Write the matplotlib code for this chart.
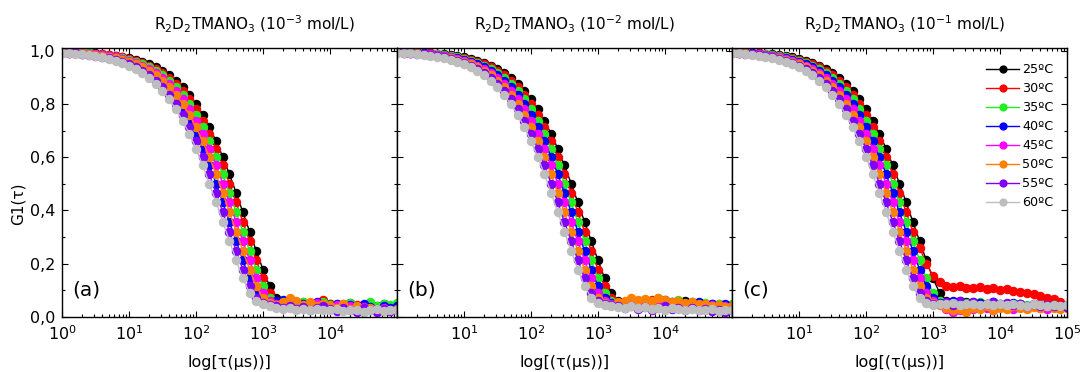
import numpy as np
import matplotlib
matplotlib.use("Agg")
import matplotlib.pyplot as plt
from matplotlib.ticker import FuncFormatter, MultipleLocator, LogLocator, NullFormatter

# ---------------- data ----------------
TAU = [1, 1.26, 1.58, 2.0, 2.51, 3.16, 3.98, 5.01, 6.31, 7.94,
       10, 12.6, 15.8, 20.0, 25.1, 31.6, 39.8, 50.1, 63.1, 79.4,
       100, 126, 158, 200, 251, 316, 398, 501, 631, 794,
       1000, 1259, 1585, 1995, 2512, 3162, 3981, 5012, 6310, 7943,
       10000, 12589, 15849, 19953, 25119, 31623, 39811, 50119, 63096, 79433, 100000]

LABELS = ["25ºC", "30ºC", "35ºC", "40ºC", "45ºC", "50ºC", "55ºC", "60ºC"]
COLORS = ["#000000", "#FF0000", "#22EE22", "#0000FF", "#FF00FF", "#FF8000", "#7F00FF", "#BEBEBE"]
TITLES = ["R$_2$D$_2$TMANO$_3$ (10$^{-3}$ mol/L)",
          "R$_2$D$_2$TMANO$_3$ (10$^{-2}$ mol/L)",
          "R$_2$D$_2$TMANO$_3$ (10$^{-1}$ mol/L)"]
XLABELS = ["log[τ(μs))]", "log[(τ(μs))]", "log[(τ(μs))]"]
PANEL_TAGS = ["(a)", "(b)", "(c)"]

# panel (a) 1e-3 mol/L
a25 = [.996,.996,.995,.993,.992,.990,.988,.985,.981,.977,.972,.966,.958,.949,.937,.923,.907,.886,.862,.833,.799,.760,.713,.660,.601,.536,.466,.393,.321,.248,.178,.115,.072,.052,.045,
       .05,.046,.052,.044,.058,.048,.04,.046,.052,.038,.044,.036,.042,.048,.034,.04]
a30 = [.996,.995,.994,.993,.991,.989,.986,.983,.979,.975,.969,.962,.954,.943,.931,.915,.897,.875,.848,.817,.780,.737,.688,.632,.569,.501,.430,.357,.285,.213,.145,.090,.060,.047,
       .06,.052,.058,.046,.05,.062,.048,.044,.05,.04,.046,.038,.042,.036,.044,.032,.048]
a35 = [.996,.995,.993,.992,.990,.988,.985,.981,.977,.972,.966,.958,.949,.937,.923,.907,.886,.862,.833,.799,.760,.713,.660,.601,.536,.466,.393,.321,.248,.178,.115,.072,.052,.045,
       .05,.046,.055,.04,.052,.058,.044,.05,.042,.054,.038,.046,.055,.04,.05,.045,.052]
a40 = [.994,.993,.991,.989,.986,.983,.979,.975,.969,.962,.954,.943,.931,.915,.897,.875,.848,.817,.780,.737,.688,.632,.569,.501,.430,.357,.285,.213,.145,.090,.060,.047,
       .06,.065,.055,.045,.05,.04,.055,.045,.038,.05,.04,.045,.035,.048,.038,.03,.042,.035,.04]
a45 = [.995,.994,.993,.991,.989,.986,.983,.979,.975,.969,.962,.954,.943,.931,.915,.897,.875,.848,.817,.780,.737,.688,.632,.569,.501,.430,.357,.285,.213,.145,.090,.060,.047,
       .045,.04,.05,.036,.045,.052,.04,.034,.045,.03,.04,.028,.036,.03,.025,.035,.022,.03]
a50 = [.995,.993,.992,.990,.988,.985,.981,.977,.972,.966,.958,.949,.937,.923,.907,.886,.862,.833,.799,.760,.713,.660,.601,.536,.466,.393,.321,.248,.178,.115,.072,.052,.045,
       .055,.07,.06,.045,.058,.04,.05,.042,.035,.048,.03,.04,.025,.035,.02,.03,.025,.03]
a55 = [.993,.992,.990,.988,.985,.981,.977,.972,.966,.958,.949,.937,.923,.907,.886,.862,.833,.799,.760,.713,.660,.601,.536,.466,.393,.321,.248,.178,.115,.072,.052,.045,
       .04,.035,.04,.03,.038,.025,.035,.04,.03,.022,.035,.028,.02,.032,.025,.018,.03,.022,.028]
a60 = [.993,.991,.989,.986,.983,.979,.975,.969,.962,.954,.943,.931,.915,.897,.875,.848,.817,.780,.737,.688,.632,.569,.501,.430,.357,.285,.213,.145,.090,.060,.047,
       .04,.035,.03,.032,.028,.03,.025,.03,.028,.025,.03,.022,.028,.025,.02,.025,.03,.022,.025,.028]

# panel (b) 1e-2 mol/L
b25 = [.996,.996,.995,.994,.993,.991,.989,.986,.983,.979,.975,.969,.962,.954,.943,.931,.915,.897,.875,.848,.817,.780,.737,.688,.632,.569,.501,.430,.357,.285,.213,.145,.090,.060,.047,
       .05,.055,.06,.052,.058,.065,.055,.05,.06,.048,.052,.045,.05,.04,.045,.038]
b30 = [.996,.996,.995,.993,.992,.990,.988,.985,.981,.977,.972,.966,.958,.949,.937,.923,.907,.886,.862,.833,.799,.760,.713,.660,.601,.536,.466,.393,.321,.248,.178,.115,.072,.052,.045,
       .052,.058,.05,.062,.055,.06,.052,.058,.05,.055,.045,.05,.042,.048,.04,.045]
b35 = [.996,.995,.994,.993,.991,.989,.986,.983,.979,.975,.969,.962,.954,.943,.931,.915,.897,.875,.848,.817,.780,.737,.688,.632,.569,.501,.430,.357,.285,.213,.145,.090,.060,.047,
       .055,.05,.06,.065,.055,.07,.06,.055,.062,.05,.055,.048,.052,.045,.05,.042,.048]
b40 = [.996,.995,.993,.992,.990,.988,.985,.981,.977,.972,.966,.958,.949,.937,.923,.907,.886,.862,.833,.799,.760,.713,.660,.601,.536,.466,.393,.321,.248,.178,.115,.072,.052,.045,
       .05,.055,.06,.052,.058,.062,.055,.05,.058,.052,.048,.055,.045,.05,.042,.048,.04]
b45 = [.995,.994,.993,.991,.989,.986,.983,.979,.975,.969,.962,.954,.943,.931,.915,.897,.875,.848,.817,.780,.737,.688,.632,.569,.501,.430,.357,.285,.213,.145,.090,.060,.047,
       .05,.045,.055,.06,.05,.058,.052,.045,.055,.048,.04,.05,.042,.038,.045,.035,.04,.032]
b50 = [.995,.993,.992,.990,.988,.985,.981,.977,.972,.966,.958,.949,.937,.923,.907,.886,.862,.833,.799,.760,.713,.660,.601,.536,.466,.393,.321,.248,.178,.115,.072,.052,.045,
       .055,.06,.07,.062,.068,.06,.072,.065,.058,.06,.052,.055,.048,.05,.042,.045,.038,.04]
b55 = [.994,.993,.991,.989,.986,.983,.979,.975,.969,.962,.954,.943,.931,.915,.897,.875,.848,.817,.780,.737,.688,.632,.569,.501,.430,.357,.285,.213,.145,.090,.060,.047,
       .045,.04,.035,.042,.03,.038,.025,.035,.04,.03,.035,.028,.032,.025,.03,.022,.028,.02,.025]
b60 = [.993,.992,.990,.988,.985,.981,.977,.972,.966,.958,.949,.937,.923,.907,.886,.862,.833,.799,.760,.713,.660,.601,.536,.466,.393,.321,.248,.178,.115,.072,.052,.045,
       .042,.038,.035,.04,.032,.036,.03,.034,.028,.032,.03,.026,.03,.028,.025,.03,.024,.028,.025]

# panel (c) 1e-1 mol/L
c25 = [.996,.995,.994,.993,.991,.989,.986,.983,.979,.975,.969,.962,.954,.943,.931,.915,.897,.875,.848,.817,.780,.737,.688,.632,.569,.501,.430,.357,.285,.213,.145,.090,.060,.047,
       .06,.055,.05,.052,.048,.055,.05,.045,.05,.048,.042,.046,.04,.044,.038,.042,.04]
c30 = [.996,.995,.993,.992,.990,.988,.985,.981,.977,.972,.966,.958,.949,.937,.923,.907,.886,.862,.833,.799,.760,.713,.660,.601,.536,.466,.393,.321,
       .26,.20,.155,.13,.118,.112,.115,.11,.108,.112,.105,.11,.102,.105,.098,.095,.09,.085,.08,.072,.066,.055,.045]
c35 = [.995,.994,.993,.991,.989,.986,.983,.979,.975,.969,.962,.954,.943,.931,.915,.897,.875,.848,.817,.780,.737,.688,.632,.569,.501,.430,.357,.285,.213,.145,.090,.060,.047,
       .05,.045,.052,.048,.055,.045,.05,.04,.048,.042,.05,.045,.04,.046,.038,.044,.04,.042]
c40 = [.995,.993,.992,.990,.988,.985,.981,.977,.972,.966,.958,.949,.937,.923,.907,.886,.862,.833,.799,.760,.713,.660,.601,.536,.466,.393,.321,.248,.178,.115,.072,.052,.045,
       .06,.055,.05,.058,.052,.048,.055,.05,.045,.052,.048,.042,.05,.045,.04,.046,.04,.044]
c45 = [.994,.993,.991,.989,.986,.983,.979,.975,.969,.962,.954,.943,.931,.915,.897,.875,.848,.817,.780,.737,.688,.632,.569,.501,.430,.357,.285,.213,.145,.090,.060,.047,
       .03,.02,.025,.035,.03,.04,.035,.028,.04,.035,.03,.038,.032,.04,.035,.03,.038,.032,.036]
c50 = [.993,.992,.990,.988,.985,.981,.977,.972,.966,.958,.949,.937,.923,.907,.886,.862,.833,.799,.760,.713,.660,.601,.536,.466,.393,.321,.248,.178,.115,.072,.052,.045,
       .035,.025,.03,.02,.035,.03,.04,.025,.035,.03,.04,.035,.03,.038,.032,.04,.035,.03,.035]
c55 = [.993,.991,.989,.986,.983,.979,.975,.969,.962,.954,.943,.931,.915,.897,.875,.848,.817,.780,.737,.688,.632,.569,.501,.430,.357,.285,.213,.145,.090,.060,.047,
       .05,.055,.045,.06,.05,.055,.045,.05,.058,.048,.052,.045,.05,.042,.048,.04,.045,.04,.042,.038]
c60 = [.992,.990,.988,.985,.981,.977,.972,.966,.958,.949,.937,.923,.907,.886,.862,.833,.799,.760,.713,.660,.601,.536,.466,.393,.321,.248,.178,.115,.072,.052,.045,
       .05,.048,.052,.045,.05,.048,.045,.05,.046,.048,.044,.05,.045,.042,.048,.044,.04,.045,.042,.044]

PANELS = [[a25, a30, a35, a40, a45, a50, a55, a60],
          [b25, b30, b35, b40, b45, b50, b55, b60],
          [c25, c30, c35, c40, c45, c50, c55, c60]]

# ---------------- style ----------------
plt.rcParams["font.family"] = ["DejaVu Sans"]
plt.rcParams["mathtext.fontset"] = "dejavusans"

W, H = 1082, 372
fig = plt.figure(figsize=(W / 100, H / 100), dpi=100)

ax_left = [62, 397, 732]
ax_w = 335
ax_top, ax_bot = 48, 317
title_cx = [254, 574, 904]
shown_x = [{0, 1, 2, 3, 4}, {1, 2, 3, 4}, {1, 2, 3, 4, 5}]

def yfmt(v, p):
    return ("%.1f" % v).replace(".", ",")

for k in range(3):
    ax = fig.add_axes([ax_left[k] / W, 1 - ax_bot / H, ax_w / W, (ax_bot - ax_top) / H])
    for vals, col, lab in zip(PANELS[k], COLORS, LABELS):
        ax.plot(TAU, vals, "-o", color=col, mfc=col, mec=col, ms=5.8, lw=1.0, label=lab)
    ax.set_xscale("log")
    ax.set_xlim(1, 1e5)
    ax.set_ylim(0, 1.01)
    ax.xaxis.set_major_locator(LogLocator(base=10, numticks=10))
    ax.xaxis.set_minor_locator(LogLocator(base=10, subs=range(2, 10), numticks=20))
    ax.xaxis.set_minor_formatter(NullFormatter())
    sx = shown_x[k]
    ax.xaxis.set_major_formatter(FuncFormatter(
        lambda v, p, sx=sx: ("$10^{%d}$" % int(round(np.log10(v)))) if int(round(np.log10(v))) in sx else ""))
    ax.yaxis.set_major_locator(MultipleLocator(0.2))
    ax.yaxis.set_minor_locator(MultipleLocator(0.1))
    if k == 0:
        ax.yaxis.set_major_formatter(FuncFormatter(yfmt))
    else:
        ax.yaxis.set_major_formatter(FuncFormatter(lambda v, p: ""))
    ax.tick_params(which="both", direction="in", top=True, right=True, labelsize=11.5, width=0.8)
    ax.tick_params(axis="x", which="major", pad=5)
    ax.tick_params(axis="y", which="major", pad=5)
    ax.tick_params(which="major", length=4)
    ax.tick_params(which="minor", length=2.5)
    for s in ax.spines.values():
        s.set_linewidth(1.0)
    ax.set_xlabel(XLABELS[k], fontsize=11.5, labelpad=9)
    ax.text(0.03, 0.10, PANEL_TAGS[k], transform=ax.transAxes, fontsize=14.5, va="center", ha="left")
    fig.text(title_cx[k] / W, 1 - 24 / H, TITLES[k], fontsize=11, ha="center", va="center")
    if k == 2:
        ax.legend(loc="upper right", bbox_to_anchor=(0.99, 0.982), frameon=False, fontsize=9.2,
                  handlelength=2.6, handletextpad=0.2, labelspacing=0.47, borderaxespad=0.5,
                  borderpad=0.3, markerscale=0.85)

fig.text(18 / W, 1 - 204 / H, "G1(τ)", rotation=90, fontsize=11, ha="center", va="center")

fig.savefig("out.png", dpi=100)
